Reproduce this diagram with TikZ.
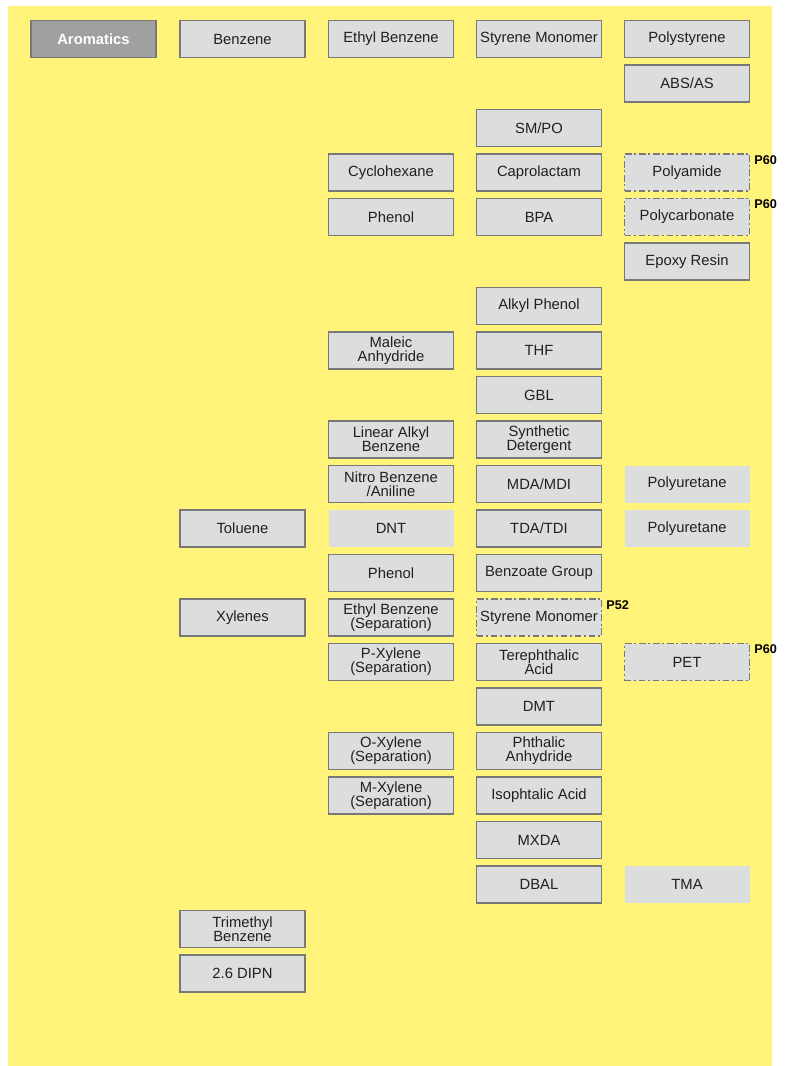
\documentclass[tikz,border=0pt]{standalone}
\usepackage{fontspec}
\setmainfont{Liberation Sans}
\definecolor{pageyellow}{HTML}{FFF37A}
\definecolor{boxgray}{HTML}{DCDDDD}
\definecolor{linegray}{HTML}{787878}
\definecolor{headgray}{HTML}{A0A0A0}
\definecolor{inkgray}{HTML}{231F20}
\begin{document}
\begin{tikzpicture}[x=0.75pt,y=-0.75pt,
  prod/.style={fill=boxgray,text=inkgray,minimum width=93.75pt,minimum height=27.75pt,
    inner sep=1pt,align=center,font=\fontsize{11.1}{10.7}\selectfont},
  solid box/.style={prod,draw=linegray,line width=1pt},
  dash box/.style={prod,draw=linegray,line width=1pt,dash pattern=on 5pt off 2pt on 1.5pt off 2pt},
  plain box/.style={prod},
  head box/.style={solid box,fill=headgray,text=white,font=\fontsize{11.1}{10.7}\selectfont\bfseries},
  tag/.style={anchor=north west,inner sep=0pt,xshift=3pt,yshift=-1.5pt,text=black,font=\fontsize{9.5}{9.5}\selectfont\bfseries}]

% Draw page background
\useasboundingbox (0,0) rectangle (793,1066);
\fill[pageyellow] (8,6) rectangle (772,1066);

% Benzene chain
\node[head box] (arom) at (93.5,39) {Aromatics};
\node[solid box] (benz) at (242.5,39) {Benzene};
\node[solid box] (eb) at (391,39) {Ethyl Benzene};
\node[solid box] (sm) at (539,39) {Styrene Monomer};
\node[solid box] (ps) at (687,39) {Polystyrene};
\node[solid box] (abs) at (687,83.5) {ABS/AS};
\node[solid box] (smpo) at (539,128) {SM/PO};

\node[solid box] (chx) at (391,172.5) {Cyclohexane};
\node[solid box] (capro) at (539,172.5) {Caprolactam};
\node[dash box] (pa) at (687,172.5) {Polyamide};
\node[tag] (pa tag) at (pa.north east) {P60};

\node[solid box] (phen) at (391,217) {Phenol};
\node[solid box] (bpa) at (539,217) {BPA};
\node[dash box] (pc) at (687,217) {Polycarbonate};
\node[tag] (pc tag) at (pc.north east) {P60};
\node[solid box] (epoxy) at (687,261.5) {Epoxy Resin};
\node[solid box] (alkph) at (539,306) {Alkyl Phenol};

\node[solid box] (maleic) at (391,350.5) {Maleic\\Anhydride};
\node[solid box] (thf) at (539,350.5) {THF};
\node[solid box] (gbl) at (539,395) {GBL};

\node[solid box] (lab) at (391,439.5) {Linear Alkyl\\Benzene};
\node[solid box] (deterg) at (539,439.5) {Synthetic\\Detergent};

\node[solid box] (nitro) at (391,484) {Nitro Benzene\\/Aniline};
\node[solid box] (mda) at (539,484) {MDA/MDI};
\node[plain box] (pu1) at (687,484) {Polyuretane};

% Toluene chain
\node[solid box] (tol) at (242.5,528.5) {Toluene};
\node[plain box] (dnt) at (391,528.5) {DNT};
\node[solid box] (tda) at (539,528.5) {TDA/TDI};
\node[plain box] (pu2) at (687,528.5) {Polyuretane};
\node[solid box] (phen2) at (391,573) {Phenol};
\node[solid box] (benzo) at (539,573) {Benzoate Group};

% Xylenes chain
\node[solid box] (xyl) at (242.5,617.5) {Xylenes};
\node[solid box] (ebsep) at (391,617.5) {Ethyl Benzene\\(Separation)};
\node[dash box] (sm2) at (539,617.5) {Styrene Monomer};
\node[tag] (sm2 tag) at (sm2.north east) {P52};

\node[solid box] (px) at (391,662) {P-Xylene\\(Separation)};
\node[solid box] (pta) at (539,662) {Terephthalic\\Acid};
\node[dash box] (pet) at (687,662) {PET};
\node[tag] (pet tag) at (pet.north east) {P60};
\node[solid box] (dmt) at (539,706.5) {DMT};

\node[solid box] (ox) at (391,751) {O-Xylene\\(Separation)};
\node[solid box] (pan) at (539,751) {Phthalic\\Anhydride};
\node[solid box] (mx) at (391,795.5) {M-Xylene\\(Separation)};
\node[solid box] (ipa) at (539,795.5) {Isophtalic Acid};
\node[solid box] (mxda) at (539,840) {MXDA};
\node[solid box] (dbal) at (539,884.5) {DBAL};
\node[plain box] (tma) at (687,884.5) {TMA};

% Others
\node[solid box] (tmb) at (242.5,929) {Trimethyl\\Benzene};
\node[solid box] (dipn) at (242.5,973.5) {2.6 DIPN};

\end{tikzpicture}
\end{document}
